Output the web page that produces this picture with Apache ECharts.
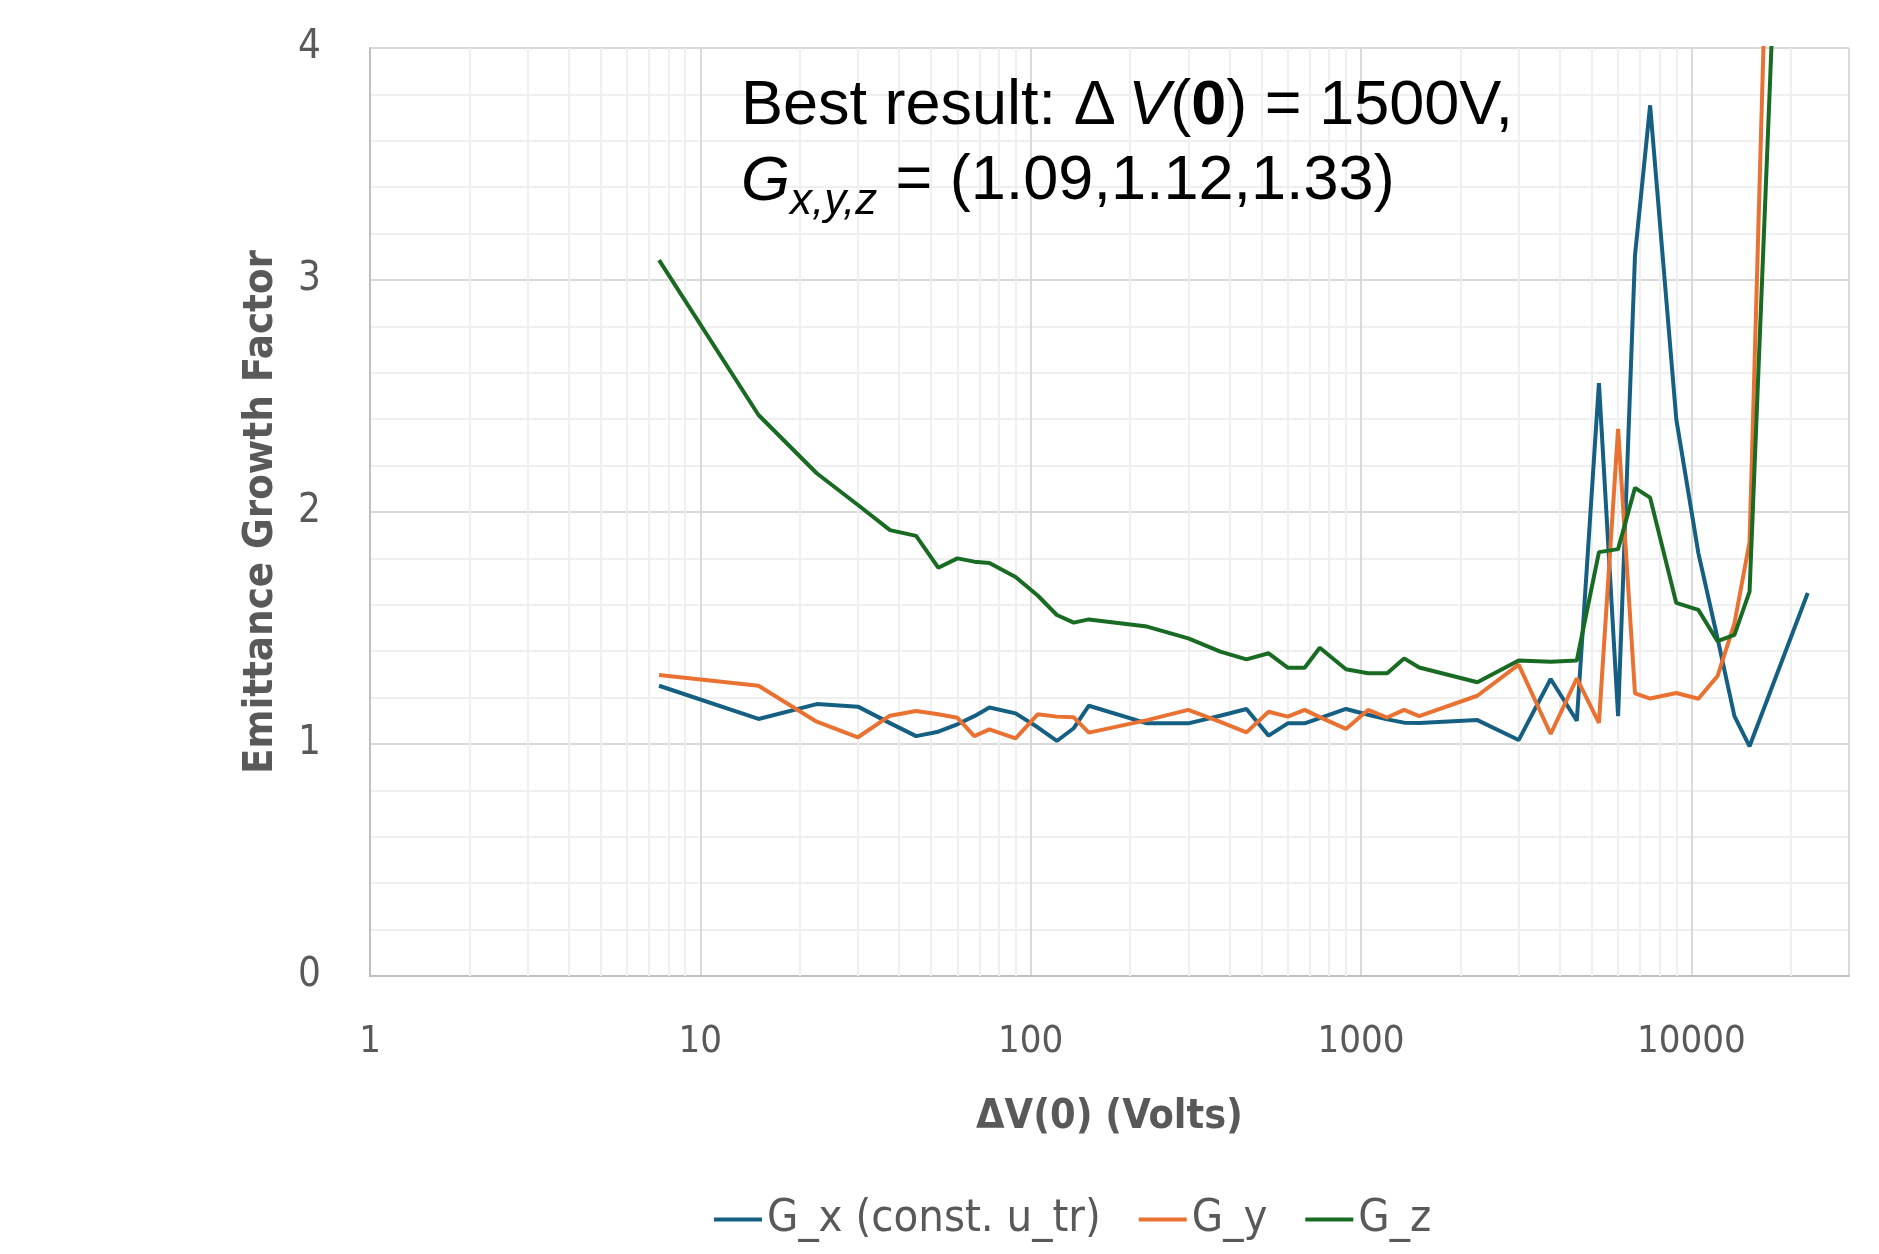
<!DOCTYPE html>
<html><head><meta charset="utf-8">
<script src="https://cdn.jsdelivr.net/npm/echarts@6/dist/echarts.min.js"></script>
<style>html,body{margin:0;padding:0;background:#fff}#c{width:1879px;height:1254px}</style>
</head><body><div id="c"></div>
<script>
const voltages = [7.5,15,22.5,30,37.5,45,52.5,60,67.5,75,90,105,120,135,150,225,300,375,450,525,600,675,750,900,1050,1200,1350,1500,2250,3000,3750,4500,5250,6000,6750,7500,9000,10500,12000,13500,15000,22500];
const gx = [1.251,1.108,1.172,1.161,1.09,1.034,1.053,1.085,1.12,1.157,1.132,1.072,1.013,1.068,1.165,1.089,1.089,1.122,1.151,1.036,1.089,1.089,1.112,1.151,1.126,1.106,1.092,1.09,1.103,1.017,1.28,1.10,2.556,1.12,3.106,3.753,2.40,1.823,1.455,1.12,0.99,1.651];
const gy = [1.297,1.251,1.096,1.029,1.122,1.142,1.128,1.113,1.034,1.063,1.024,1.128,1.118,1.115,1.049,1.103,1.147,1.095,1.05,1.139,1.118,1.147,1.116,1.065,1.147,1.114,1.147,1.12,1.208,1.342,1.043,1.283,1.091,2.358,1.218,1.196,1.22,1.195,1.293,1.52,1.87,10.8];
const gz = [3.086,2.418,2.167,2.03,1.922,1.897,1.76,1.80,1.786,1.78,1.72,1.64,1.556,1.523,1.537,1.506,1.455,1.398,1.365,1.391,1.329,1.329,1.415,1.322,1.305,1.305,1.369,1.33,1.266,1.36,1.354,1.36,1.827,1.84,2.104,2.062,1.608,1.578,1.443,1.47,1.657,7.9];
const seriesNames = ['G_x (const. u_tr)','G_y','G_z'];
const xTicks = [1,10,100,1000,10000];
const yTicks = [0,1,2,3,4];
const minorGridX = [2,3,4,5,6,7,8,9,20,30,40,50,60,70,80,90,200,300,400,500,600,700,800,900,2000,3000,4000,5000,6000,7000,8000,9000,20000];

const NARROW = '"Liberation Sans Narrow","Arial Narrow","DejaVu Sans Condensed",sans-serif';
const SANS = '"Liberation Sans",Arial,sans-serif';
const colors = ['#156082','#E97132','#196B24'];

const chart = echarts.init(document.getElementById('c'), null, {renderer:'canvas'});
const mk = (arr) => voltages.map((v,i)=>[v, arr[i]]);
const lineSeries = [gx, gy, gz].map((arr, k) => ({
  name: seriesNames[k], type: 'line', data: mk(arr), symbol: 'none', showSymbol: false,
  clip: true, z: 3, animation: false,
  lineStyle: {color: colors[k], width: 4}, itemStyle: {color: colors[k]}
}));
const minorSeries = {
  name: 'minor', type: 'line', data: [], z: 1, animation: false,
  markLine: {
    silent: true, symbol: ['none','none'], z: 1, animation: false,
    label: {show: false},
    lineStyle: {color: '#efefef', width: 2, type: 'solid'},
    data: minorGridX.map(v => ({xAxis: v}))
  }
};

const F = 63;
const mainFont = {fontFamily: SANS, fontSize: F, color: '#000'};
chart.setOption({
  animation: false,
  backgroundColor: '#fff',
  color: colors,
  grid: {left: 370, right: 30, top: 48, bottom: 278, containLabel: false},
  xAxis: {
    type: 'log', logBase: 10, min: 1, max: 30000,
    name: 'ΔV(0) (Volts)', nameLocation: 'middle', nameGap: 121,
    nameTextStyle: {fontFamily: NARROW, fontWeight: 'bold', fontSize: 41, color: '#595959'},
    axisLine: {show: true, lineStyle: {color: '#bfbfbf', width: 2}},
    axisTick: {show: false},
    axisLabel: {
      margin: 47, fontFamily: NARROW, fontSize: 38, color: '#595959', showMaxLabel: false,
      formatter: (v) => { const r = Math.round(v); return xTicks.includes(r) ? String(r) : ''; }
    },
    splitLine: {show: true, lineStyle: {color: '#d9d9d9', width: 2}}
  },
  yAxis: {
    type: 'value', min: yTicks[0], max: yTicks[yTicks.length-1], interval: 1,
    name: 'Emittance Growth Factor', nameLocation: 'middle', nameGap: 88, nameRotate: 90,
    nameTextStyle: {fontFamily: NARROW, fontWeight: 'bold', fontSize: 41.5, color: '#595959'},
    axisLine: {show: true, lineStyle: {color: '#bfbfbf', width: 2}},
    axisTick: {show: false},
    axisLabel: {margin: 49, fontFamily: NARROW, fontSize: 40, color: '#595959'},
    splitLine: {show: true, lineStyle: {color: '#d9d9d9', width: 2}},
    minorTick: {show: false, splitNumber: 5},
    minorSplitLine: {show: true, lineStyle: {color: '#efefef', width: 2}}
  },
  legend: {
    data: seriesNames, left: 709, top: 1192, itemWidth: 48, itemHeight: 4, itemGap: 38,
    icon: 'rect',
    textStyle: {fontFamily: NARROW, fontSize: 45, color: '#595959'}
  },
  graphic: [
    {type: 'text', left: 741, top: 75, z: 10, silent: true,
     style: {
       text: '{a|Best result: Δ\u2009}{i|V}{a|(}{b|0}{a|) = 1500V,}',
       rich: {
         a: Object.assign({}, mainFont, {lineHeight: F}),
         i: Object.assign({}, mainFont, {fontStyle: 'italic', lineHeight: F}),
         b: Object.assign({}, mainFont, {fontWeight: 'bold', lineHeight: F})
       }
     }},
    {type: 'text', x: 741, y: 182, z: 10, silent: true,
     style: Object.assign({text: 'G', fontStyle: 'italic', verticalAlign: 'middle', align: 'left'}, mainFont, {fill: '#000'})},
    {type: 'text', x: 790, y: 202, z: 10, silent: true,
     style: {text: 'x,y,z', fontStyle: 'italic', fontFamily: SANS, fontSize: 44, fill: '#000', verticalAlign: 'middle', align: 'left'}},
    {type: 'text', x: 878, y: 182, z: 10, silent: true,
     style: Object.assign({text: ' = (1.09,1.12,1.33)', verticalAlign: 'middle', align: 'left'}, mainFont, {fill: '#000'})}
  ],
  series: [minorSeries].concat(lineSeries)
});
</script></body></html>
